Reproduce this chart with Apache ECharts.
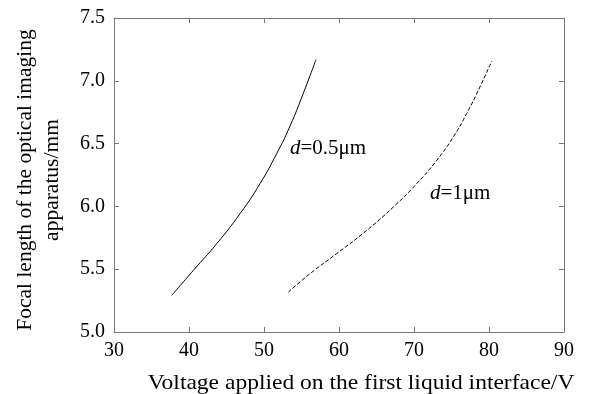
<!DOCTYPE html>
<html>
<head>
<meta charset="utf-8">
<script src="https://cdn.jsdelivr.net/npm/echarts@6/dist/echarts.min.js"></script>
<style>
  html, body { margin: 0; padding: 0; background: #fff; }
  #chart { width: 592px; height: 394px; }
</style>
</head>
<body>
<div id="chart"></div>
<script>
// curve d=0.5um (solid)
const voltageThin = [37.69, 40.57, 43.69, 46.80, 49.47, 51.69, 53.47, 55.24, 56.93];
const focalThin = [5.291, 5.490, 5.703, 5.942, 6.181, 6.420, 6.640, 6.900, 7.169];
// curve d=1um (dashed)
const voltageThick = [53.24, 56.13, 59.69, 63.69, 67.24, 70.36, 73.03, 75.24, 77.03, 78.80, 80.36];
const focalThick = [5.317, 5.464, 5.624, 5.809, 5.995, 6.181, 6.367, 6.553, 6.740, 6.952, 7.156];

const xTicks = [30, 40, 50, 60, 70, 80, 90];
const yTicks = [5.0, 5.5, 6.0, 6.5, 7.0, 7.5];

const font = 'Liberation Serif, Times New Roman, serif';
const axisColor = '#777';

const chart = echarts.init(document.getElementById('chart'));

const zip = (xs, ys) => xs.map((x, i) => [x, ys[i]]);

const baseX = {
  type: 'value',
  min: xTicks[0],
  max: xTicks[xTicks.length - 1],
  interval: 10,
  splitLine: {show: false},
  axisLine: {lineStyle: {color: axisColor, width: 1}},
  axisTick: {inside: true, length: 5, lineStyle: {color: axisColor}},
};
const baseY = {
  type: 'value',
  min: yTicks[0],
  max: yTicks[yTicks.length - 1],
  interval: 0.5,
  splitLine: {show: false},
  axisLine: {lineStyle: {color: axisColor, width: 1}},
  axisTick: {inside: true, length: 5, lineStyle: {color: axisColor}},
};

chart.setOption({
  animation: false,
  grid: {left: 114, right: 28, top: 18, bottom: 62},
  xAxis: [
    {
      ...baseX,
      position: 'bottom',
      axisLabel: {color: '#000', fontFamily: font, fontSize: 20, margin: 9},
    },
    {...baseX, position: 'top', axisLabel: {show: false}},
  ],
  yAxis: [
    {
      ...baseY,
      position: 'left',
      axisLabel: {
        color: '#000', fontFamily: font, fontSize: 20, margin: 9,
        formatter: v => v.toFixed(1),
      },
    },
    {...baseY, position: 'right', axisLabel: {show: false}},
  ],
  graphic: [
    {
      type: 'text',
      x: 361, y: 383,
      scaleX: 1.12,
      style: {
        text: 'Voltage applied on the first liquid interface/V',
        font: '21px ' + font,
        fill: '#000',
        textAlign: 'center',
        textVerticalAlign: 'middle',
      },
    },
    {
      type: 'text',
      x: 38.5, y: 180,
      rotation: Math.PI / 2,
      style: {
        text: 'Focal length of the optical imaging\napparatus/mm',
        font: '21.5px ' + font,
        fill: '#000',
        textAlign: 'center',
        textVerticalAlign: 'middle',
        lineHeight: 27,
      },
    },
    {
      type: 'text',
      x: 290, y: 148,
      style: {
        text: '{i|d}=0.5μm',
        rich: {i: {font: 'italic 21px ' + font}},
        font: '21px ' + font,
        fill: '#000',
        textVerticalAlign: 'middle',
      },
    },
    {
      type: 'text',
      x: 430, y: 193,
      style: {
        text: '{i|d}=1μm',
        rich: {i: {font: 'italic 21px ' + font}},
        font: '21px ' + font,
        fill: '#000',
        textVerticalAlign: 'middle',
      },
    },
  ],
  series: [
    {
      type: 'line',
      data: zip(voltageThin, focalThin),
      smooth: 0.5,
      showSymbol: false,
      lineStyle: {color: '#000', width: 1},
    },
    {
      type: 'line',
      data: zip(voltageThick, focalThick),
      smooth: 0.5,
      showSymbol: false,
      lineStyle: {color: '#000', width: 1, type: [4, 2]},
    },
  ],
});
</script>
</body>
</html>
